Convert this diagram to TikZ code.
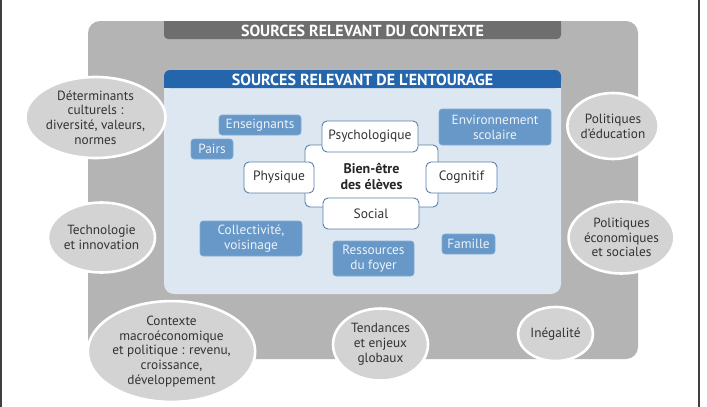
\documentclass[tikz,border=0pt]{standalone}
\usepackage{fontspec}
\setmainfont{PT Sans}
\usetikzlibrary{shapes.geometric}
\definecolor{outergray}{HTML}{B4B4B4}
\definecolor{darkbar}{HTML}{6E6E6E}
\definecolor{headblue}{HTML}{2465AB}
\definecolor{lightblue}{HTML}{DCE7F2}
\definecolor{boxblue}{HTML}{6798C8}
\definecolor{boxtext}{HTML}{EEF3F9}
\definecolor{ellgray}{HTML}{D3D3D3}
\definecolor{txtdark}{HTML}{333333}
\definecolor{edgeblue}{HTML}{5A7FA8}
\tikzset{
  ctxell/.style={ellipse, fill=ellgray, draw=white, line width=2.6pt, inner sep=0pt,
    align=center, text=txtdark, font=\fontsize{13.3}{14.8}\selectfont},
  bluebox/.style={rectangle, rounded corners=3pt, fill=boxblue, draw=boxblue!80!white, line width=0.6pt,
    inner sep=0pt, align=center, text=boxtext, font=\fontsize{13.3}{15}\selectfont},
  wbox/.style={rectangle, rounded corners=5pt, fill=white, draw=edgeblue, line width=0.9pt,
    inner sep=0pt, align=center, text=txtdark, font=\fontsize{13.5}{15}\selectfont},
  headtxt/.style={text=white, font=\bfseries\fontsize{16}{17}\selectfont, inner sep=0pt}
}
\begin{document}
\begin{tikzpicture}[x=1pt,y=-1pt]
\useasboundingbox (0,0) rectangle (707,407);
\fill[white] (0,0) rectangle (707,407);
% side frame lines
\draw[black!75, line width=1.2pt] (1,0) -- (1,407);
\draw[black!75, line width=1.2pt] (699,0) -- (699,407);
% outer gray
\fill[outergray, rounded corners=12pt] (88,21) rectangle (638,359);
\fill[darkbar, rounded corners=4pt] (164,21) rectangle (561,39);
\fill[darkbar] (164,21) rectangle (561,28);
\node[headtxt] (ctxtitle) at (362.5,30.5) {SOURCES RELEVANT DU CONTEXTE};
% inner box
\fill[lightblue, rounded corners=10pt] (164,70) rectangle (561,294);
\fill[headblue, rounded corners=6pt] (164,70) rectangle (561,88);
\fill[headblue] (164,80) rectangle (561,88);
\node[headtxt] (enttitle) at (362.5,79.5) {SOURCES RELEVANT DE L’ENTOURAGE};
% blue boxes
\node[bluebox, minimum width=82pt, minimum height=20pt] (ens) at (260,125) {Enseignants};
\node[bluebox, minimum width=42pt, minimum height=20pt] (pairs) at (212,149) {Pairs};
\node[bluebox, minimum width=112pt, minimum height=36pt] (env) at (495,127) {Environnement\\scolaire};
\node[bluebox, minimum width=102pt, minimum height=35pt] (coll) at (251,238.5) {Collectivité,\\voisinage};
\node[bluebox, minimum width=81pt, minimum height=35pt] (res) at (373.5,258.5) {Ressources\\du foyer};
\node[bluebox, minimum width=53pt, minimum height=20pt] (fam) at (468.5,244) {Famille};
% center
\node[wbox, minimum width=133pt, minimum height=62pt, font=\bfseries\fontsize{14}{16}\selectfont, text=black!85] (bien) at (371.5,176) {Bien-être\\des élèves};
\node[wbox, minimum width=96pt, minimum height=31pt] (psy) at (370,136.5) {Psychologique};
\node[wbox, minimum width=70pt, minimum height=31pt] (phy) at (279,177.5) {Physique};
\node[wbox, minimum width=71pt, minimum height=31pt] (cog) at (461.5,177.5) {Cognitif};
\node[wbox, minimum width=96pt, minimum height=31pt] (soc) at (371,213.5) {Social};
% context ellipses
\node[ctxell, minimum width=121pt, minimum height=81pt] (det) at (95.5,117.5) {Déterminants\\culturels :\\diversité, valeurs,\\normes};
\node[ctxell, minimum width=107pt, minimum height=70pt] (tech) at (101.5,237.5) {Technologie\\et innovation};
\node[ctxell, minimum width=88pt, minimum height=66pt] (poled) at (613,126) {Politiques\\d’éducation};
\node[ctxell, minimum width=88pt, minimum height=72pt] (poleco) at (621.5,237.5) {Politiques\\économiques\\et sociales};
\node[ctxell, minimum width=163pt, minimum height=93pt] (macro) at (171.5,351.5) {Contexte\\macroéconomique\\et politique : revenu,\\croissance,\\développement};
\node[ctxell, minimum width=95pt, minimum height=72pt] (tend) at (380.5,344.5) {Tendances\\et enjeux\\globaux};
\node[ctxell, minimum width=75pt, minimum height=54pt] (ineg) at (555.5,334) {Inégalité};
\end{tikzpicture}
\end{document}
